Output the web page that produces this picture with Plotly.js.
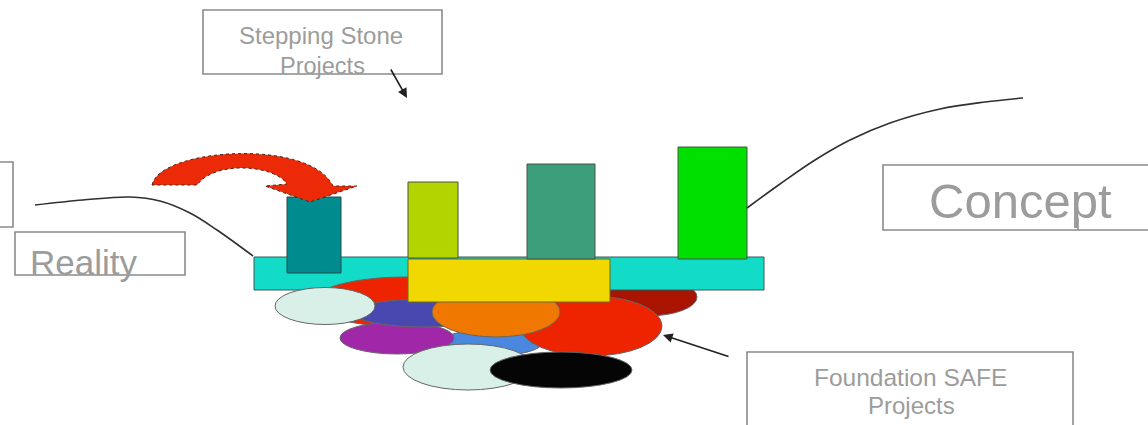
<!DOCTYPE html>
<html>
<head>
<meta charset="utf-8">
<script src="https://cdn.plot.ly/plotly-3.0.1.min.js"></script>
<style>html,body{margin:0;padding:0;background:#fff;}#chart{width:1148px;height:425px;}</style>
</head>
<body>
<div id="chart"></div>
<script>
// ---- diagram data (pixel-space coordinates of the sketch) ----
// stepping stones (vertical bars)
const stoneNames   = ['Stone 1', 'Stone 2', 'Stone 3', 'Stone 4'];
const stoneCenters = [314, 433, 561, 712.5];
const stoneWidths  = [54, 50, 68, 69];
const stoneBases   = [273, 258, 259, 259];
const stoneHeights = [-76, -76, -95, -112];
const stoneColors  = ['#008c8e', '#b4d400', '#3c9e7a', '#00e000'];

// platform bars
const platformNames   = ['Platform', 'SAFE base'];
const platformCenters = [509, 509];
const platformWidths  = [510, 202];
const platformBases   = [290, 302];
const platformHeights = [-33, -43];
const platformColors  = ['#12dcc8', '#f0d800'];

// foundation project ellipses: centre x, centre y, radius x, radius y
const ellipseNames  = ['dark red', 'red A', 'light blue', 'red B', 'purple', 'indigo', 'orange', 'pale A', 'pale B', 'black'];
const ellipseCX     = [647, 405, 490, 591, 397, 425, 496, 325, 468, 561];
const ellipseCY     = [297, 302, 343, 326, 338, 313, 312, 306, 367, 370];
const ellipseRX     = [50, 92, 52, 71, 57, 72, 64, 50, 65, 71];
const ellipseRY     = [19, 25, 13, 30, 16, 14, 25, 18.5, 23, 18];
const ellipseColors = ['#a81400', '#ee2400', '#4a88e0', '#ee2400', '#a028a8', '#4848b0', '#f07800', '#d8f0e8', '#d8f0e8', '#050505'];

// connecting curves
const realityX = [35, 83, 130, 160, 190, 217, 253];
const realityY = [205, 200, 197, 201, 213, 230, 256];
const conceptX = [747, 780, 815, 850, 890, 940, 985, 1023];
const conceptY = [208, 184, 160, 140, 123, 109, 102, 98];

// labelled boxes: x0, x1, y0, y1
const boxNames = ['left edge', 'Stepping', 'Reality', 'Concept', 'Foundation'];
const boxX0 = [-60, 203, 15, 883, 747];
const boxX1 = [13, 442, 185, 1152, 1073];
const boxY0 = [162, 10, 232, 165, 352];
const boxY1 = [227, 74, 275, 230, 440];

// texts
const labelTexts = ['Stepping Stone', 'Projects', 'Reality', 'Concept', 'Foundation SAFE', 'Projects'];
const labelX     = [321, 322, 83, 1020, 910, 911];
const labelY     = [35, 66, 262, 201, 377, 405];
const labelSizes = [24, 23.5, 35, 49, 24.5, 24];

// red curved arrow outline
const curveArrowX = [152, 160, 310, 333, 357, 310, 265, 287, 275, 215, 197];
const curveArrowY = [185, 148, 138, 186, 186, 202, 186, 184, 165, 160, 185];

// pointer arrows: head x, head y, tail x, tail y
const pointerHeadX = [407, 663];
const pointerHeadY = [98, 335];
const pointerTailX = [390, 730];
const pointerTailY = [68, 357];

// ---- build ----
const traces = [];
traces.push({
  type: 'bar', name: 'stone1', x: stoneCenters.slice(0, 1), y: stoneHeights.slice(0, 1),
  base: stoneBases.slice(0, 1), width: stoneWidths.slice(0, 1),
  marker: {color: stoneColors.slice(0, 1), line: {color: '#2a4a4a', width: 1}},
  hoverinfo: 'skip', showlegend: false
});
traces.push({
  type: 'bar', name: 'safe', x: platformCenters.slice(1), y: platformHeights.slice(1),
  base: platformBases.slice(1), width: platformWidths.slice(1),
  marker: {color: platformColors.slice(1), line: {color: '#6a6a20', width: 1}},
  hoverinfo: 'skip', showlegend: false
});
traces.push({
  type: 'bar', name: 'stones', x: stoneCenters.slice(1), y: stoneHeights.slice(1),
  base: stoneBases.slice(1), width: stoneWidths.slice(1),
  marker: {color: stoneColors.slice(1), line: {color: '#445544', width: 1}},
  hoverinfo: 'skip', showlegend: false
});
traces.push({
  type: 'scatter', mode: 'lines', x: realityX, y: realityY,
  line: {shape: 'spline', color: '#303030', width: 1.6}, hoverinfo: 'skip', showlegend: false
});
traces.push({
  type: 'scatter', mode: 'lines', x: conceptX, y: conceptY,
  line: {shape: 'spline', color: '#303030', width: 1.6}, hoverinfo: 'skip', showlegend: false
});

const shapes = [];
function ellipseShape(i) {
  return {
    type: 'circle', xref: 'x', yref: 'y', layer: 'below',
    x0: ellipseCX[i] - ellipseRX[i], x1: ellipseCX[i] + ellipseRX[i],
    y0: ellipseCY[i] - ellipseRY[i], y1: ellipseCY[i] + ellipseRY[i],
    fillcolor: ellipseColors[i], line: {color: '#666', width: 1}
  };
}
// dark red sits under the platform, the rest over it
shapes.push(ellipseShape(0));
shapes.push({
  type: 'rect', xref: 'x', yref: 'y', layer: 'below',
  x0: platformCenters[0] - platformWidths[0] / 2, x1: platformCenters[0] + platformWidths[0] / 2,
  y0: platformBases[0], y1: platformBases[0] + platformHeights[0],
  fillcolor: platformColors[0], line: {color: '#3a5a5a', width: 1}
});
for (let i = 1; i < ellipseNames.length; i++) shapes.push(ellipseShape(i));
for (let i = 0; i < boxNames.length; i++) {
  shapes.push({
    type: 'rect', xref: 'x', yref: 'y', x0: boxX0[i], x1: boxX1[i], y0: boxY0[i], y1: boxY1[i],
    line: {color: '#8a8a8a', width: 1.6}, fillcolor: 'rgba(0,0,0,0)'
  });
}
// small stroke inside the concept box
shapes.push({type: 'line', xref: 'x', yref: 'y', x0: 1078, x1: 1078, y0: 218, y1: 230,
  line: {color: '#8a8a8a', width: 1.4}});
// curved red arrow
let p = 'M' + curveArrowX[0] + ',' + curveArrowY[0] +
  ' C' + curveArrowX[1] + ',' + curveArrowY[1] + ' ' + curveArrowX[2] + ',' + curveArrowY[2] + ' ' + curveArrowX[3] + ',' + curveArrowY[3] +
  ' L' + curveArrowX[4] + ',' + curveArrowY[4] + ' L' + curveArrowX[5] + ',' + curveArrowY[5] +
  ' L' + curveArrowX[6] + ',' + curveArrowY[6] + ' L' + curveArrowX[7] + ',' + curveArrowY[7] +
  ' C' + curveArrowX[8] + ',' + curveArrowY[8] + ' ' + curveArrowX[9] + ',' + curveArrowY[9] + ' ' + curveArrowX[10] + ',' + curveArrowY[10] + ' Z';
shapes.push({type: 'path', xref: 'x', yref: 'y', path: p, fillcolor: '#ec2a08',
  line: {color: '#3a2a20', width: 1, dash: 'dot'}});

const annotations = [];
for (let i = 0; i < labelTexts.length; i++) {
  annotations.push({
    xref: 'x', yref: 'y', x: labelX[i], y: labelY[i], text: labelTexts[i], showarrow: false,
    xanchor: 'center', yanchor: 'middle',
    font: {family: 'Liberation Sans, Arial, sans-serif', size: labelSizes[i], color: '#9c9c9c'}
  });
}
for (let i = 0; i < pointerHeadX.length; i++) {
  annotations.push({
    xref: 'x', yref: 'y', axref: 'x', ayref: 'y', x: pointerHeadX[i], y: pointerHeadY[i],
    ax: pointerTailX[i], ay: pointerTailY[i], text: '', showarrow: true,
    arrowhead: 2, arrowsize: 1.2, arrowwidth: 1.6, arrowcolor: '#202020'
  });
}

const layout = {
  width: 1148, height: 425,
  margin: {l: 0, r: 0, t: 0, b: 0},
  paper_bgcolor: '#ffffff', plot_bgcolor: '#ffffff',
  barmode: 'overlay', showlegend: false,
  xaxis: {range: [0, 1148], visible: false, fixedrange: true},
  yaxis: {range: [425, 0], visible: false, fixedrange: true},
  shapes: shapes, annotations: annotations
};
Plotly.newPlot('chart', traces, layout, {staticPlot: true, displayModeBar: false});
</script>
</body>
</html>
